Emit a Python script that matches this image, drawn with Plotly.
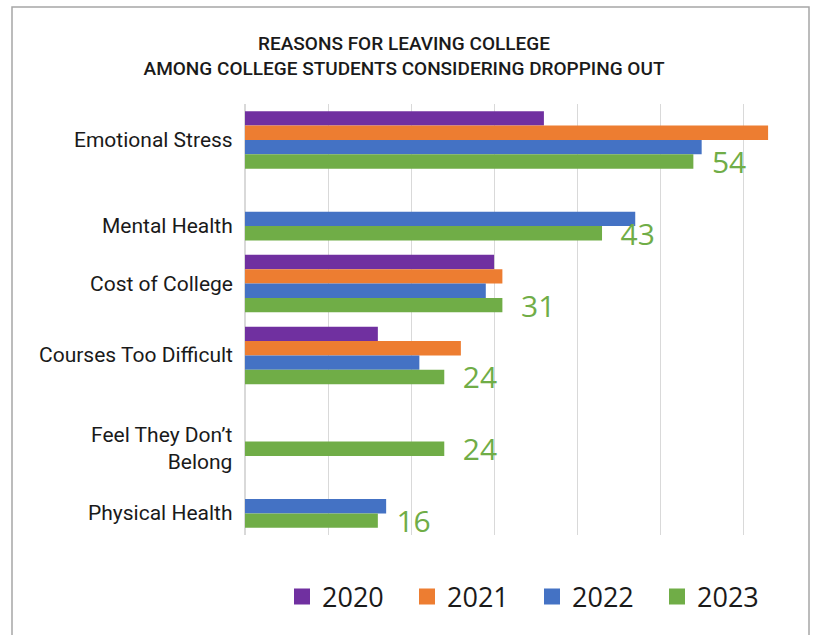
import plotly.graph_objects as go

categories = ["Emotional Stress", "Mental Health", "Cost of College",
              "Courses Too Difficult", "Feel They Don\u2019t<br>Belong", "Physical Health"]
years = ["2020", "2021", "2022", "2023"]
v2020 = [36, None, 30, 16, None, None]
v2021 = [63, None, 31, 26, None, None]
v2022 = [55, 47, 29, 21, None, 17]
v2023 = [54, 43, 31, 24, 24, 16]
series = [v2020, v2021, v2022, v2023]
colors = ["#7030a0", "#ed7d31", "#4472c4", "#70ad47"]

W, H = 817, 635
ML, MR, MT, MB = 245, 24, 104, 100
BARGAP = 0.2
plot_w = W - ML - MR
plot_h = H - MT - MB
slot_px = plot_h / len(categories) * (1 - BARGAP) / len(series)

fig = go.Figure()
for i, (yr, vals, col) in enumerate(zip(years, series, colors)):
    is_last = i == len(series) - 1
    fig.add_trace(go.Bar(
        y=categories, x=vals, orientation="h", name=yr,
        marker=dict(color=col, line=dict(width=0)),
        showlegend=False,
        text=[("\u00a0\u00a0" + str(v)) if v is not None else "" for v in vals] if is_last else None,
        textposition="outside" if is_last else None,
        textfont=dict(family="Open Sans", size=30, color=col),
        constraintext="none", cliponaxis=False,
        hoverinfo="skip",
    ))

# legend proxies (larger square swatches)
for yr, col in zip(years, colors):
    fig.add_trace(go.Scatter(
        x=[None], y=[None], mode="markers", name=yr,
        marker=dict(symbol="square", size=17, color=col),
        showlegend=True,
    ))

# category labels, centred on the bars that are present
annotations = []
for ci, cat in enumerate(categories):
    present = [si for si, s in enumerate(series) if s[ci] is not None]
    mean_slot = sum(present) / len(present)
    offset = (mean_slot - (len(series) - 1) / 2) * slot_px
    annotations.append(dict(
        x=0, y=cat, xref="x", yref="y", text=cat, showarrow=False,
        xanchor="right", xshift=-10, yshift=-offset, align="right",
        font=dict(family="Roboto", size=21, color="#1a1a1a"),
    ))

def px_to_paper_x(px):
    return (px - ML) / plot_w

def px_to_paper_y(py):
    return (H - MB - py) / plot_h

fig.update_layout(
    width=W, height=H,
    margin=dict(l=ML, r=MR, t=MT, b=MB),
    paper_bgcolor="white", plot_bgcolor="white",
    barmode="group", bargap=BARGAP, bargroupgap=0,
    title=dict(
        text="REASONS FOR LEAVING COLLEGE<br>AMONG COLLEGE STUDENTS CONSIDERING DROPPING OUT",
        x=404 / W, xanchor="center", xref="container",
        y=1 - 50 / H, yanchor="top", yref="container",
        font=dict(family="Roboto", size=19, color="#1a1a1a", weight=500),
    ),
    xaxis=dict(range=[0, 66], dtick=10, tick0=0, showgrid=True, gridcolor="#d9d9d9",
               gridwidth=1, showticklabels=False, zeroline=True, zerolinecolor="#d9d9d9",
               showline=False, ticks=""),
    yaxis=dict(type="category", autorange="reversed", showticklabels=False,
               showgrid=False, zeroline=False, showline=False, ticks=""),
    legend=dict(orientation="h", x=px_to_paper_x(532), xanchor="center",
                y=px_to_paper_y(597), yanchor="middle",
                font=dict(family="Open Sans", size=27, color="#1a1a1a"),
                entrywidth=80, entrywidthmode="pixels", bgcolor="rgba(0,0,0,0)",
                itemclick=False),
    annotations=annotations,
    shapes=[dict(type="rect", xref="paper", yref="paper",
                 x0=px_to_paper_x(12), x1=px_to_paper_x(809),
                 y0=px_to_paper_y(645), y1=px_to_paper_y(7),
                 line=dict(color="#a6a6a6", width=1.5), fillcolor="rgba(0,0,0,0)",
                 layer="below")],
)

fig.write_html("out.html")
